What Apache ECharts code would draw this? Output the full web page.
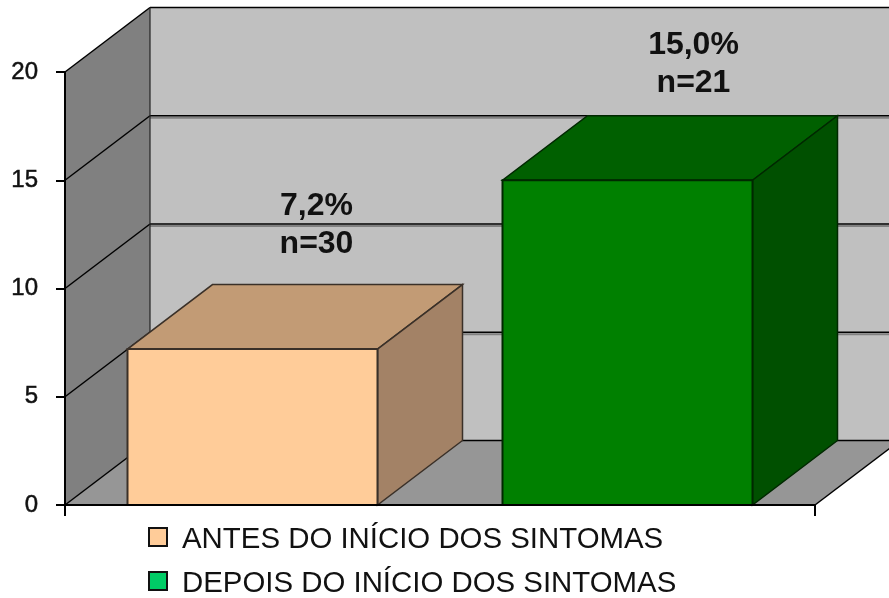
<!DOCTYPE html>
<html>
<head>
<meta charset="utf-8">
<style>html,body{margin:0;padding:0;background:#fff}#c{width:889px;height:598px}</style>
<script src="https://cdn.jsdelivr.net/npm/echarts@6/dist/echarts.min.js"></script>
</head>
<body>
<div id="c"></div>
<script>
var categories = [''];
var yTicks = [0, 5, 10, 15, 20];
var antesValues = [7.2];
var depoisValues = [15.0];
var seriesNames = ['ANTES DO INÍCIO DOS SINTOMAS', 'DEPOIS DO INÍCIO DOS SINTOMAS'];
var barLabels = ['7,2%\nn=30', '15,0%\nn=21'];

var DX = 85, DY = -64.5;
var FONT = '"Liberation Sans", Arial, sans-serif';
var barStyles = [
  {front: '#FFCC99', top: '#C29B75', side: '#A38266', edge: '#3a3028', labelDx: 64, labelDy: -124},
  {front: '#008000', top: '#006000', side: '#005000', edge: '#002800', labelDx: 66, labelDy: -116}
];
var legendColors = ['#FFCC99', '#00CC66'];

function poly(pts, fill, stroke, lw) {
  return {type: 'polygon', shape: {points: pts},
    style: {fill: fill, stroke: stroke || null, lineWidth: lw || 0, lineJoin: 'miter'}, silent: true};
}
function line(x1, y1, x2, y2, color, lw) {
  return {type: 'line', shape: {x1: x1, y1: y1, x2: x2, y2: y2},
    style: {stroke: color, lineWidth: lw, fill: null}, silent: true};
}

function renderWalls(params, api) {
  var band = api.size([1, 0])[0];
  var c0 = api.coord([0, 0]);
  var L = c0[0] - band / 2, R = L + band, B = c0[1];
  var T = api.coord([0, yTicks[yTicks.length - 1]])[1];
  var kids = [
    poly([[L + DX, T + DY], [R + DX, T + DY], [R + DX, B + DY], [L + DX, B + DY]], '#C0C0C0'),
    poly([[L, B], [L, T], [L + DX, T + DY], [L + DX, B + DY]], '#808080'),
    poly([[L, B], [R, B], [R + DX, B + DY], [L + DX, B + DY]], '#969696')
  ];
  yTicks.forEach(function (v) {
    var y = api.coord([0, v])[1];
    if (v > 0 && v < yTicks[yTicks.length - 1]) {
      kids.push(line(L + DX, y + DY + 2, R + DX, y + DY + 2, '#808080', 2));
    }
    kids.push(line(L + DX, y + DY, R + DX, y + DY, '#000', 1.5));
    kids.push(line(L, y, L + DX, y + DY, '#000', 1.5));
  });
  kids.push(line(L + DX, T + DY, L + DX, B + DY, '#222', 1.2));
  kids.push(line(R, B, R + DX, B + DY, '#000', 1.5));
  return {type: 'group', children: kids};
}

function barRenderer(i) {
  return function (params, api) {
    var band = api.size([1, 0])[0];
    var c0 = api.coord([0, 0]);
    var L = c0[0] - band / 2;
    var x0 = L + band * (1 / 12 + i / 2), x1 = x0 + band / 3;
    var yB = c0[1], yT = api.coord([0, api.value(1)])[1];
    var s = barStyles[i];
    return {type: 'group', children: [
      poly([[x0, yT], [x1, yT], [x1 + DX, yT + DY], [x0 + DX, yT + DY]], s.top, s.edge, 1.5),
      poly([[x1, yB], [x1, yT], [x1 + DX, yT + DY], [x1 + DX, yB + DY]], s.side, s.edge, 1.5),
      poly([[x0, yB], [x1, yB], [x1, yT], [x0, yT]], s.front, s.edge, 2),
      {type: 'text', silent: true, style: {
        text: barLabels[i], x: (x0 + x1) / 2 + s.labelDx, y: yT + s.labelDy,
        fontFamily: FONT, fontSize: 32, fontWeight: 'bold', lineHeight: 38,
        fill: '#111', align: 'center', verticalAlign: 'middle'
      }}
    ]};
  };
}

var chart = echarts.init(document.getElementById('c'), null, {renderer: 'canvas'});
chart.setOption({
  animation: false,
  backgroundColor: '#fff',
  grid: {left: 65, top: 72, width: 750, height: 433},
  legend: {
    left: 143, top: 520, height: 78, orient: 'vertical', itemWidth: 18, itemHeight: 18, itemGap: 15,
    icon: 'rect', selectedMode: false,
    itemStyle: {borderColor: '#111', borderWidth: 2},
    formatter: '{a|{name}}',
    textStyle: {
      fontFamily: FONT, fontSize: 29.4, color: '#111',
      rich: {a: {fontFamily: FONT, fontSize: 29.4, color: '#111', padding: [5, 0, 0, 10]}}
    },
    data: [
      {name: seriesNames[0], itemStyle: {color: legendColors[0], borderColor: '#111', borderWidth: 2}},
      {name: seriesNames[1], itemStyle: {color: legendColors[1], borderColor: '#111', borderWidth: 2}}
    ]
  },
  xAxis: {
    type: 'category', data: categories, z: 6,
    axisLine: {lineStyle: {color: '#000', width: 2}},
    axisTick: {show: true, length: 11, lineStyle: {color: '#000', width: 2}},
    axisLabel: {show: false}
  },
  yAxis: {
    type: 'value', min: 0, max: 20, interval: 5, z: 6,
    axisLine: {show: true, lineStyle: {color: '#000', width: 2}},
    axisTick: {show: true, length: 9, lineStyle: {color: '#000', width: 2}},
    splitLine: {show: false},
    axisLabel: {fontFamily: FONT, fontSize: 24, color: '#111', margin: 27, textBorderColor: '#111', textBorderWidth: 0.5}
  },
  series: [
    {type: 'custom', name: 'walls', renderItem: renderWalls, data: [[0, 0]], z: 1, clip: false, silent: true},
    {type: 'custom', name: seriesNames[0], renderItem: barRenderer(0), z: 2, clip: false,
      itemStyle: {color: legendColors[0]},
      data: antesValues.map(function (v) { return [0, v]; }), encode: {x: 0, y: 1}},
    {type: 'custom', name: seriesNames[1], renderItem: barRenderer(1), z: 2, clip: false,
      itemStyle: {color: legendColors[1]},
      data: depoisValues.map(function (v) { return [0, v]; }), encode: {x: 0, y: 1}}
  ]
});
</script>
</body>
</html>
